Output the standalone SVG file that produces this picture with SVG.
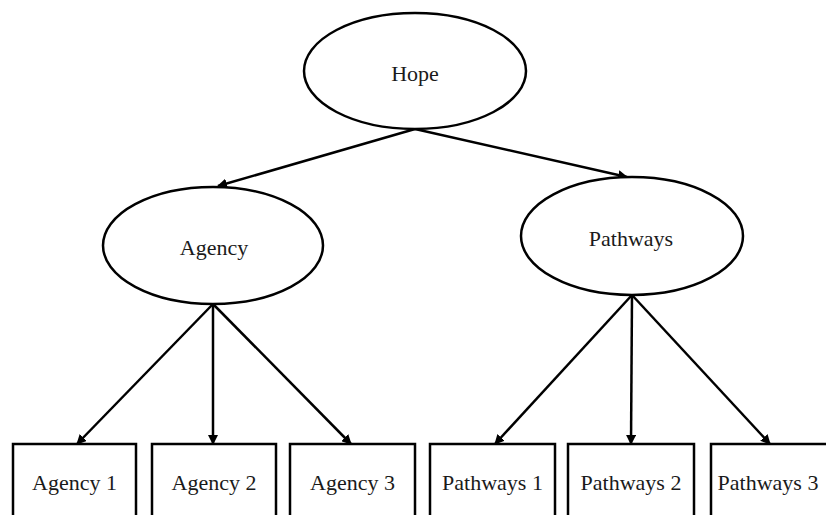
<svg xmlns="http://www.w3.org/2000/svg" width="826" height="515" viewBox="0 0 826 515">
<style>
.n{fill:#fff;stroke:#000;stroke-width:2.5}
.t{font-family:"Liberation Serif","Times New Roman",serif;font-size:22px;fill:#1a1a1a;text-anchor:middle}
.c{stroke:#000;stroke-width:2.5;fill:none;marker-end:url(#ah)}
</style>
<defs>
<marker id="ah" viewBox="0 0 10 10" refX="9" refY="5" markerWidth="4" markerHeight="4" orient="auto" markerUnits="strokeWidth">
<path d="M0,0L10,5L0,10z" fill="#000"/>
</marker>
</defs>
<rect width="826" height="515" fill="#fff"/>
<g id="connectors">
<line class="c" x1="415" y1="129" x2="218" y2="186"/>
<line class="c" x1="415" y1="129" x2="627" y2="177"/>
<line class="c" x1="213" y1="304" x2="77" y2="444"/>
<line class="c" x1="213" y1="304" x2="213" y2="444"/>
<line class="c" x1="213" y1="304" x2="351" y2="444"/>
<line class="c" x1="632" y1="295" x2="495" y2="444"/>
<line class="c" x1="632" y1="295" x2="631" y2="444"/>
<line class="c" x1="632" y1="295" x2="770" y2="444"/>
</g>
<g id="hope"><ellipse class="n" cx="415" cy="71" rx="111" ry="58"/><text class="t" x="415" y="81">Hope</text></g>
<g id="agency"><ellipse class="n" cx="213" cy="245.5" rx="110" ry="58.5"/><text class="t" x="214" y="255">Agency</text></g>
<g id="pathways"><ellipse class="n" cx="632" cy="236" rx="111" ry="59"/><text class="t" x="631" y="246">Pathways</text></g>
<g id="agency1"><rect class="n" x="13" y="444" width="123" height="90"/><text class="t" x="74.5" y="490">Agency 1</text></g>
<g id="agency2"><rect class="n" x="152" y="444" width="124" height="90"/><text class="t" x="214" y="490">Agency 2</text></g>
<g id="agency3"><rect class="n" x="290" y="444" width="125" height="90"/><text class="t" x="352.5" y="490">Agency 3</text></g>
<g id="pathways1"><rect class="n" x="430" y="444" width="125" height="90"/><text class="t" x="492.5" y="490">Pathways 1</text></g>
<g id="pathways2"><rect class="n" x="568" y="444" width="126" height="90"/><text class="t" x="631" y="490">Pathways 2</text></g>
<g id="pathways3"><rect class="n" x="711" y="444" width="126" height="90"/><text class="t" x="768" y="490">Pathways 3</text></g>
</svg>
